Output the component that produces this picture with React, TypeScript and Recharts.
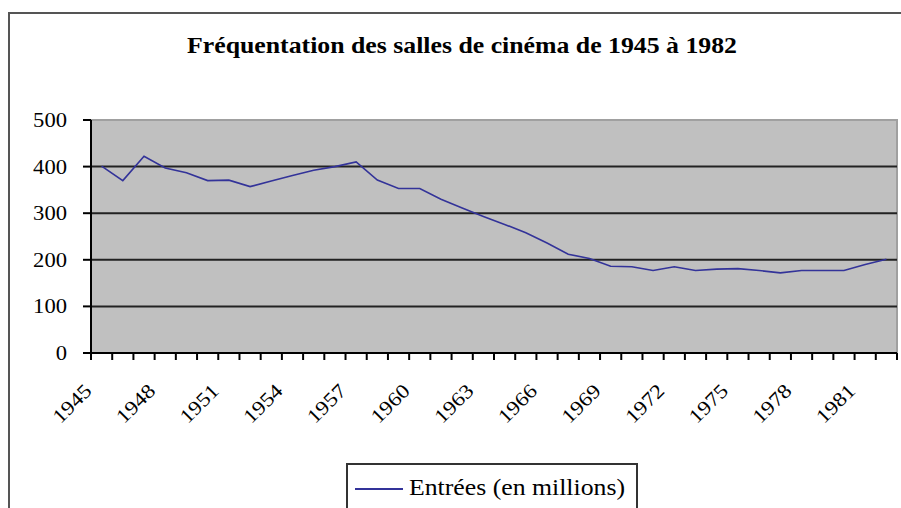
import React from 'react';
import { LineChart, Line, XAxis, YAxis, ReferenceArea, ReferenceLine, Customized } from 'recharts';

const years = [
  1945, 1946, 1947, 1948, 1949, 1950, 1951, 1952, 1953, 1954,
  1955, 1956, 1957, 1958, 1959, 1960, 1961, 1962, 1963, 1964,
  1965, 1966, 1967, 1968, 1969, 1970, 1971, 1972, 1973, 1974,
  1975, 1976, 1977, 1978, 1979, 1980, 1981, 1982,
];
const entrees = [
  401, 370, 422, 397, 387, 370, 371, 357, 369, 381,
  392, 400, 410, 371, 353, 353, 330, 311, 293, 276,
  258, 236, 212, 203, 186, 185, 177, 185, 177, 180,
  181, 177, 172, 177, 177, 177, 190, 201,
];
const yTicks = [0, 100, 200, 300, 400, 500];
const gridValues = [100, 200, 300, 400];
const labelYears = [1945, 1948, 1951, 1954, 1957, 1960, 1963, 1966, 1969, 1972, 1975, 1978, 1981];
const seriesName = 'Entrées (en millions)';
const title = 'Fréquentation des salles de cinéma de 1945 à 1982';

const data = years.map((year, i) => ({ pos: i + 0.5, year, value: entrees[i] }));
const boundaryTicks = [...years.map((_, i) => i), years.length];

const W = 901;
const H = 508;
const MARGIN = { top: 120, right: 4, bottom: 125, left: 0 };
const XAXIS_H = 30;
const YAXIS_W = 91;
const FONT = 'Liberation Serif, Tinos, Times New Roman, Times, DejaVu Serif, Noto Serif, serif';
const LINE_COLOR = '#333399';

const XTick = (props: any) => {
  const { x, y, payload } = props;
  const idx = payload.value as number;
  const year = years[idx];
  const showLabel = year !== undefined && labelYears.includes(year);
  const ex = x + 2;
  const ey = y + 39;
  return (
    <g>
      <line x1={x} x2={x} y1={y} y2={y + 7} stroke="#000" strokeWidth={2} />
      {showLabel && (
        <text
          x={ex}
          y={ey}
          transform={`rotate(-45, ${ex}, ${ey})`}
          textAnchor="end"
          style={{ fontFamily: FONT }}
          fontSize={20}
          fill="#000"
          textLength={46}
          lengthAdjust="spacingAndGlyphs"
        >
          {String(year)}
        </text>
      )}
    </g>
  );
};

const YTick = (props: any) => {
  const { x, y, payload } = props;
  const s = String(payload.value);
  return (
    <text
      x={x}
      y={y}
      dy="0.35em"
      textAnchor="end"
      style={{ fontFamily: FONT }}
      fontSize={20}
      fill="#000"
      textLength={s.length * 11.3}
      lengthAdjust="spacingAndGlyphs"
    >
      {s}
    </text>
  );
};

const Decor = () => (
  <g>
    <rect x={9} y={13} width={1000} height={1000} fill="none" stroke="#555" strokeWidth={2} />
    <text
      x={462}
      y={53}
      textAnchor="middle"
      style={{ fontFamily: FONT }}
      fontWeight="bold"
      fontSize={24}
      fill="#000"
      textLength={550}
      lengthAdjust="spacingAndGlyphs"
    >
      {title}
    </text>
  </g>
);

const LegendBox = () => (
  <g>
    <rect x={347} y={464} width={290} height={60} fill="#fff" stroke="#333" strokeWidth={2} />
    <line x1={355} x2={403} y1={489} y2={489} stroke={LINE_COLOR} strokeWidth={2} />
    <text
      x={409}
      y={495}
      style={{ fontFamily: FONT }}
      fontSize={23}
      fill="#000"
      textLength={216}
      lengthAdjust="spacingAndGlyphs"
    >
      {seriesName}
    </text>
  </g>
);

export default function App() {
  return (
    <div
      style={{
        position: 'absolute',
        left: 0,
        top: 0,
        width: W,
        height: H,
        overflow: 'hidden',
        background: '#fff',
        fontFamily: FONT,
      }}
    >
      <LineChart width={W} height={H} data={data} margin={MARGIN}>
        <Customized component={Decor} />
        <Customized component={LegendBox} />
        <ReferenceArea y1={0} y2={500} fill="#c0c0c0" fillOpacity={1} stroke="#a0a0a0" strokeWidth={2} />
        {gridValues.map((v) => (
          <ReferenceLine key={v} y={v} stroke="#222" strokeWidth={2} />
        ))}
        <XAxis
          type="number"
          dataKey="pos"
          domain={[0, years.length]}
          ticks={boundaryTicks}
          interval={0}
          height={XAXIS_H}
          tickLine={false}
          tickSize={0}
          tickMargin={0}
          axisLine={{ stroke: '#000', strokeWidth: 2 }}
          tick={<XTick />}
          allowDataOverflow
        />
        <YAxis
          type="number"
          domain={[0, 500]}
          ticks={yTicks}
          interval={0}
          width={YAXIS_W}
          tickSize={8}
          tickMargin={16}
          tickLine={{ stroke: '#000', strokeWidth: 2 }}
          axisLine={{ stroke: '#000', strokeWidth: 2 }}
          tick={<YTick />}
        />
        <Line
          type="linear"
          dataKey="value"
          name={seriesName}
          stroke={LINE_COLOR}
          strokeWidth={1.6}
          dot={false}
          activeDot={false}
          isAnimationActive={false}
        />
      </LineChart>
    </div>
  );
}
